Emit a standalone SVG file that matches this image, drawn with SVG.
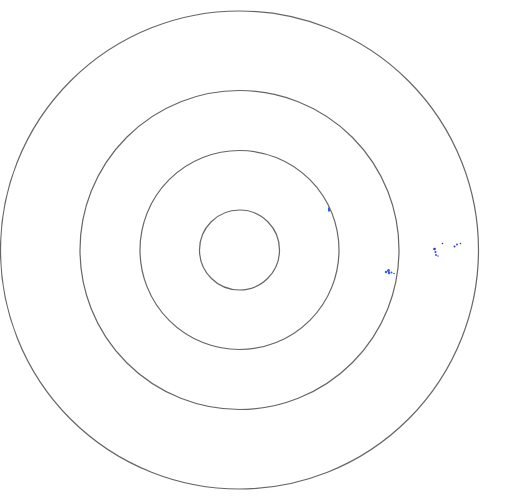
<svg xmlns="http://www.w3.org/2000/svg" width="515" height="496" viewBox="0 0 515 496">
<style>
.ring{fill:none;stroke:#666;stroke-width:1.2}
.pt{fill:#2a5cf5;stroke:none}
.pd{fill:#3333dd;stroke:none}
</style>
<rect width="515" height="496" fill="#fff"/>
<g id="rings">
<circle class="ring" cx="239.5" cy="250" r="239"/>
<circle class="ring" cx="239.5" cy="250" r="159.5"/>
<circle class="ring" cx="239.5" cy="250" r="99.5"/>
<circle class="ring" cx="239.5" cy="250" r="40"/>
</g>
<g id="points">
<rect class="pt" x="328" y="207.5" width="2" height="4"/>
<circle class="pt" cx="386" cy="272" r="1.2"/>
<circle class="pt" cx="388.5" cy="270.5" r="1.5"/>
<circle class="pt" cx="389" cy="273" r="1.2"/>
<circle class="pt" cx="391.5" cy="272.5" r="1"/>
<circle class="pt" cx="394" cy="273.5" r="0.8"/>
<circle class="pd" cx="434.5" cy="249" r="1.3"/>
<circle class="pd" cx="435.5" cy="252" r="1"/>
<circle class="pd" cx="436" cy="255" r="0.9"/>
<circle class="pd" cx="438" cy="256" r="0.7"/>
<circle class="pd" cx="442.5" cy="243.5" r="0.8"/>
<circle class="pd" cx="454.5" cy="246.5" r="1"/>
<circle class="pd" cx="457" cy="244.5" r="0.9"/>
<circle class="pd" cx="460.5" cy="243.5" r="0.8"/>
</g>
</svg>
